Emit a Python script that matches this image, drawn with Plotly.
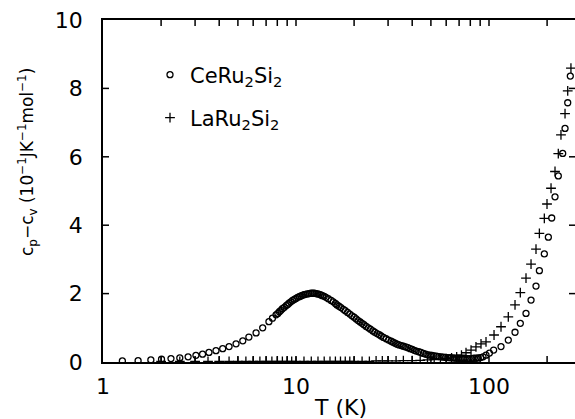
import plotly.graph_objects as go

# CeRu2Si2 (open circles): temperature (K) and cp-cv (1e-1 J/K/mol)
ce_T = [1.26, 1.52, 1.77, 2.01, 2.25, 2.50, 2.76, 3.03, 3.28, 3.54, 3.85, 4.17, 4.50, 4.89,
        5.30, 5.70, 6.21, 6.72, 7.24, 7.55, 7.88, 8.05, 8.2, 8.35, 8.5, 8.7, 8.9, 9.05, 9.2,
        9.4, 9.6, 9.8, 10.0, 10.2, 10.4, 10.6, 10.8, 11.0, 11.2, 11.45, 11.7, 11.95, 12.2,
        12.45, 12.7, 12.95, 13.2, 13.45, 13.7, 14.0, 14.3, 14.7, 15.2, 15.6, 16.0, 16.3, 16.7,
        17.1, 17.6, 18.0, 18.5, 19.0, 19.5, 20.0, 20.5, 21.0, 21.5, 22.0, 22.5, 23.1, 23.7,
        24.3, 25.0, 25.6, 26.3, 27.0, 27.6, 28.4, 29.3, 30.2, 31.1, 31.8, 32.6, 33.4, 34.2,
        35.1, 36.0, 37.0, 38.0, 39.0, 40.0, 41.0, 42.0, 43.2, 44.4, 45.7, 47.0, 48.2, 49.5,
        50.7, 51.9, 53.4, 55.0, 56.5, 58.0, 59.6, 61.3, 63.1, 65.0, 66.5, 68.0, 69.8, 71.6,
        73.3, 75.0, 77.0, 79.0, 81.3, 83.6, 85.8, 88.0, 90.5, 93.1, 96.5, 100.5,
        105.7, 115.4, 125.9, 136.4, 145.3, 155.5, 165.1, 175.2, 182.4, 193.5, 203.0,
        211.3, 219.8, 228.6, 240.9, 247.7, 255.8, 263.8]
ce_v = [0.03, 0.04, 0.06, 0.08, 0.10, 0.12, 0.15, 0.195, 0.23, 0.28, 0.33, 0.39, 0.45, 0.53,
        0.62, 0.73, 0.85, 1.00, 1.18, 1.28, 1.38, 1.42, 1.47, 1.51, 1.56, 1.60, 1.65, 1.68, 1.72,
        1.76, 1.80, 1.83, 1.86, 1.89, 1.91, 1.93, 1.95, 1.97, 1.98, 1.99, 2.00, 2.01, 2.01,
        2.01, 2.00, 1.99, 1.98, 1.96, 1.94, 1.92, 1.89, 1.85, 1.80, 1.76, 1.71, 1.67, 1.63,
        1.59, 1.54, 1.50, 1.45, 1.40, 1.35, 1.31, 1.26, 1.21, 1.17, 1.13, 1.09, 1.04, 1.00,
        0.96, 0.91, 0.87, 0.83, 0.80, 0.76, 0.72, 0.68, 0.64, 0.61, 0.58, 0.55, 0.52, 0.50,
        0.48, 0.46, 0.44, 0.42, 0.39, 0.37, 0.34, 0.32, 0.30, 0.28, 0.25, 0.23, 0.21, 0.20,
        0.19, 0.18, 0.17, 0.16, 0.15, 0.14, 0.135, 0.13, 0.125, 0.12, 0.115, 0.11, 0.11, 0.11,
        0.10, 0.10, 0.10, 0.10, 0.10, 0.11, 0.11, 0.12, 0.13, 0.15, 0.20, 0.26,
        0.35, 0.45, 0.64, 0.87, 1.13, 1.42, 1.81, 2.22, 2.67, 3.16, 3.65,
        4.21, 4.83, 5.44, 6.10, 6.83, 7.58, 8.36]

# LaRu2Si2 (plus signs)
la_T = [2.0, 2.5, 3.0, 3.5, 4.0, 4.5, 5.0, 5.5, 6.0, 6.5, 7.0, 7.5, 8.0, 8.5, 9.0, 9.5, 10.0,
        11.0, 12.0, 13.0, 14.0, 15.0, 16.0, 17.0, 18.0, 19.0, 20.0, 22.0, 24.0, 26.0, 28.0,
        30.0, 33.0, 36.0, 40.0, 44.0, 48.0, 52.0, 56.0, 60.0, 64.0, 68.0, 72.0, 76.0,
        80.7, 85.6, 90.9, 96.5, 106.2, 115.4, 125.9, 136.4, 145.3, 155.5, 165.1, 175.2, 182.4,
        193.5, 199.8, 209.6, 219.8, 228.6, 236.0, 247.7, 255.8, 265.8]
la_v = [0.02, 0.02, 0.02, 0.02, 0.02, 0.02, 0.02, 0.02, 0.02, 0.02, 0.02, 0.02, 0.02, 0.02,
        0.02, 0.02, 0.02, 0.02, 0.02, 0.02, 0.02, 0.02, 0.02, 0.02, 0.02, 0.02, 0.02, 0.02,
        0.02, 0.03, 0.03, 0.03, 0.03, 0.04, 0.04, 0.05, 0.06, 0.07, 0.08, 0.10, 0.12, 0.15,
        0.20, 0.27,
        0.35, 0.44, 0.53, 0.59, 0.79, 1.03, 1.32, 1.67, 2.03, 2.45, 2.86, 3.30, 3.76,
        4.20, 4.62, 5.08, 5.57, 6.09, 6.64, 7.26, 7.93, 8.59]

# tick positions and labels
x_labelvals = [1, 10, 100]
x_labeltext = ["1", "10", "100"]
x_tickmarks = [2, 3, 4, 5, 6, 7, 8, 9, 10, 20, 30, 40, 50, 60, 70, 80, 90, 100, 200]
y_tickvals = [0, 2, 4, 6, 8, 10]
y_ticktext = ["0", "2", "4", "6", "8", "10"]
y_tickmarks = [2, 4, 6, 8]

FONT = "DejaVu Sans"
W, H = 575, 419
L, T, B, R = 103, 20, 57, 0
TICK = 6  # tick length, px

fig = go.Figure()
fig.add_trace(go.Scatter(
    x=ce_T, y=ce_v, mode="markers", name="CeRu<sub>2</sub>Si<sub>2</sub>",
    marker=dict(symbol="circle-open", size=6, color="black", line=dict(width=1.3, color="black")),
    legend="legend"))
fig.add_trace(go.Scatter(
    x=la_T, y=la_v, mode="markers", name="LaRu<sub>2</sub>Si<sub>2</sub>",
    marker=dict(symbol="cross-thin", size=7, color="black", line=dict(width=1.3, color="black")),
    legend="legend2"))

pw = W - L - R
ph = H - T - B

fig.update_layout(
    width=W, height=H,
    margin=dict(l=L, r=R, t=T, b=B),
    paper_bgcolor="white", plot_bgcolor="white",
    font=dict(family=FONT, size=20, color="black"),
    legend=dict(x=(150 - L) / pw, y=(H - B - 75) / ph, xanchor="left", yanchor="middle",
                bgcolor="rgba(0,0,0,0)", font=dict(size=21)),
    legend2=dict(x=(150 - L) / pw, y=(H - B - 118) / ph, xanchor="left", yanchor="middle",
                 bgcolor="rgba(0,0,0,0)", font=dict(size=21)),
    xaxis=dict(type="log", range=[0, pw / 193.0], tickmode="array",
               tickvals=x_labelvals, ticktext=x_labeltext, ticks="",
               showline=True, linecolor="black", linewidth=1.5, mirror=True,
               showgrid=False, zeroline=False, tickfont=dict(size=22), ticklabelstandoff=4),
    yaxis=dict(range=[0, 10], tickmode="array", tickvals=y_tickvals, ticktext=y_ticktext,
               ticks="", showline=True, linecolor="black", linewidth=1.5, mirror=False,
               showgrid=False, zeroline=False, tickfont=dict(size=22), ticklabelstandoff=14),
    showlegend=True,
)

# inward tick marks drawn through the axes' own scales
tick_line = dict(color="black", width=1.5)
for v in x_tickmarks:
    fig.add_shape(type="line", xref="x", yref="paper", x0=v, x1=v, y0=0, y1=TICK / ph,
                  line=tick_line, layer="above")
    fig.add_shape(type="line", xref="x", yref="paper", x0=v, x1=v, y0=1, y1=1 - TICK / ph,
                  line=tick_line, layer="above")
for v in y_tickmarks:
    fig.add_shape(type="line", xref="paper", yref="y", x0=0, x1=TICK / pw, y0=v, y1=v,
                  line=tick_line, layer="above")
    fig.add_shape(type="line", xref="paper", yref="y", x0=1, x1=1 - TICK / pw, y0=v, y1=v,
                  line=tick_line, layer="above")

fig.add_annotation(text="T (K)", xref="paper", yref="paper", x=(340 - L) / pw,
                   y=-(407 - (H - B)) / ph, xanchor="center", yanchor="middle",
                   showarrow=False, font=dict(size=22))
fig.add_annotation(text="c<sub>p</sub>\u2212c<sub>v</sub> (10<sup>\u22121</sup>JK<sup>\u22121</sup>mol<sup>\u22121</sup>)",
                   xref="paper", yref="paper", x=(27 - L) / pw, y=((H - B) - 162) / ph,
                   xanchor="center", yanchor="middle", textangle=-90,
                   showarrow=False, font=dict(size=17))

fig.write_html("out.html")
